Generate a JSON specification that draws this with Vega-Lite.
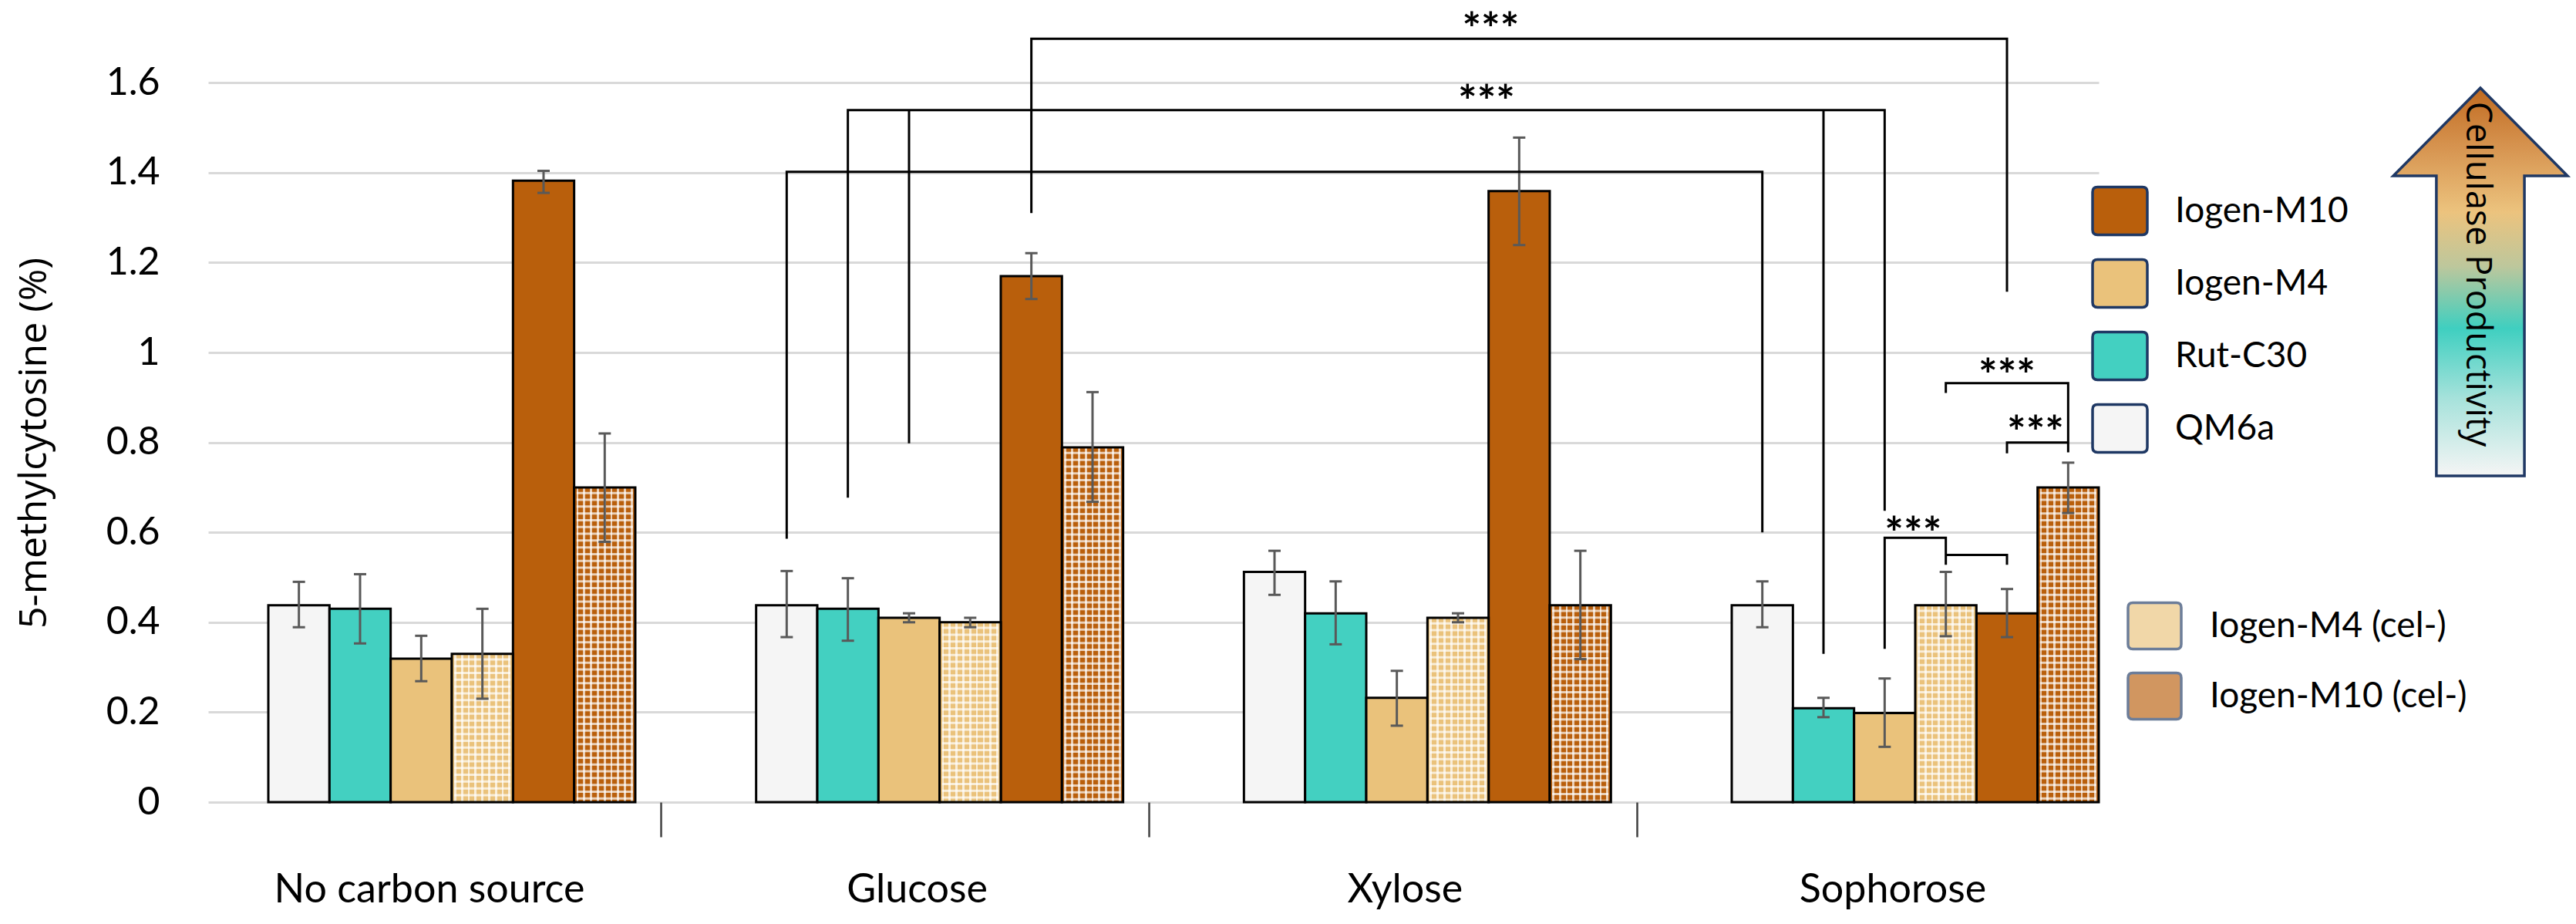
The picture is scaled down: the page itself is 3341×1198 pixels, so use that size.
{
  "$schema": "https://vega.github.io/schema/vega-lite/v6.json",
  "width": 2452,
  "height": 1026,
  "autosize": {"type": "none"},
  "padding": {"left": 270, "top": 14, "right": 619, "bottom": 158},
  "background": "white",
  "config": {"view": {"stroke": null}},
  "datasets": {
    "bars": [
      {"source": "No carbon source", "strain": "QM6a", "value": 0.438, "low": 0.389, "high": 0.490},
      {"source": "No carbon source", "strain": "Rut-C30", "value": 0.430, "low": 0.353, "high": 0.507},
      {"source": "No carbon source", "strain": "Iogen-M4", "value": 0.319, "low": 0.269, "high": 0.370},
      {"source": "No carbon source", "strain": "Iogen-M4 (cel-)", "value": 0.330, "low": 0.230, "high": 0.430},
      {"source": "No carbon source", "strain": "Iogen-M10", "value": 1.382, "low": 1.355, "high": 1.404},
      {"source": "No carbon source", "strain": "Iogen-M10 (cel-)", "value": 0.700, "low": 0.579, "high": 0.820},
      {"source": "Glucose", "strain": "QM6a", "value": 0.438, "low": 0.367, "high": 0.514},
      {"source": "Glucose", "strain": "Rut-C30", "value": 0.430, "low": 0.359, "high": 0.498},
      {"source": "Glucose", "strain": "Iogen-M4", "value": 0.410, "low": 0.400, "high": 0.420},
      {"source": "Glucose", "strain": "Iogen-M4 (cel-)", "value": 0.400, "low": 0.389, "high": 0.410},
      {"source": "Glucose", "strain": "Iogen-M10", "value": 1.170, "low": 1.119, "high": 1.221},
      {"source": "Glucose", "strain": "Iogen-M10 (cel-)", "value": 0.789, "low": 0.668, "high": 0.912},
      {"source": "Xylose", "strain": "QM6a", "value": 0.512, "low": 0.461, "high": 0.559},
      {"source": "Xylose", "strain": "Rut-C30", "value": 0.420, "low": 0.351, "high": 0.491},
      {"source": "Xylose", "strain": "Iogen-M4", "value": 0.232, "low": 0.170, "high": 0.292},
      {"source": "Xylose", "strain": "Iogen-M4 (cel-)", "value": 0.410, "low": 0.400, "high": 0.420},
      {"source": "Xylose", "strain": "Iogen-M10", "value": 1.359, "low": 1.239, "high": 1.478},
      {"source": "Xylose", "strain": "Iogen-M10 (cel-)", "value": 0.438, "low": 0.318, "high": 0.559},
      {"source": "Sophorose", "strain": "QM6a", "value": 0.438, "low": 0.389, "high": 0.491},
      {"source": "Sophorose", "strain": "Rut-C30", "value": 0.209, "low": 0.189, "high": 0.232},
      {"source": "Sophorose", "strain": "Iogen-M4", "value": 0.198, "low": 0.123, "high": 0.275},
      {"source": "Sophorose", "strain": "Iogen-M4 (cel-)", "value": 0.438, "low": 0.369, "high": 0.512},
      {"source": "Sophorose", "strain": "Iogen-M10", "value": 0.420, "low": 0.367, "high": 0.474},
      {"source": "Sophorose", "strain": "Iogen-M10 (cel-)", "value": 0.700, "low": 0.643, "high": 0.755}
    ],
    "brackets": [
      {"b": "A", "i": 1, "source": "Glucose", "strain": "Iogen-M10", "y": 1.31},
      {"b": "A", "i": 2, "source": "Glucose", "strain": "Iogen-M10", "y": 1.698},
      {"b": "A", "i": 3, "source": "Sophorose", "strain": "Iogen-M10", "y": 1.698},
      {"b": "A", "i": 4, "source": "Sophorose", "strain": "Iogen-M10", "y": 1.135},
      {"b": "B1", "i": 1, "source": "Glucose", "strain": "Rut-C30", "y": 0.677},
      {"b": "B1", "i": 2, "source": "Glucose", "strain": "Rut-C30", "y": 1.539},
      {"b": "B1", "i": 3, "source": "Sophorose", "strain": "Iogen-M4", "y": 1.539},
      {"b": "B1", "i": 4, "source": "Sophorose", "strain": "Iogen-M4", "y": 0.648},
      {"b": "B2", "i": 1, "source": "Glucose", "strain": "Iogen-M4", "y": 0.798},
      {"b": "B2", "i": 2, "source": "Glucose", "strain": "Iogen-M4", "y": 1.539},
      {"b": "B3", "i": 1, "source": "Sophorose", "strain": "Rut-C30", "y": 0.33},
      {"b": "B3", "i": 2, "source": "Sophorose", "strain": "Rut-C30", "y": 1.539},
      {"b": "C", "i": 1, "source": "Glucose", "strain": "QM6a", "y": 0.586},
      {"b": "C", "i": 2, "source": "Glucose", "strain": "QM6a", "y": 1.402},
      {"b": "C", "i": 3, "source": "Sophorose", "strain": "QM6a", "y": 1.402},
      {"b": "C", "i": 4, "source": "Sophorose", "strain": "QM6a", "y": 0.6},
      {"b": "D", "i": 1, "source": "Sophorose", "strain": "Iogen-M4 (cel-)", "y": 0.91},
      {"b": "D", "i": 2, "source": "Sophorose", "strain": "Iogen-M4 (cel-)", "y": 0.932},
      {"b": "D", "i": 3, "source": "Sophorose", "strain": "Iogen-M10 (cel-)", "y": 0.932},
      {"b": "D", "i": 4, "source": "Sophorose", "strain": "Iogen-M10 (cel-)", "y": 0.778},
      {"b": "E", "i": 1, "source": "Sophorose", "strain": "Iogen-M10", "y": 0.776},
      {"b": "E", "i": 2, "source": "Sophorose", "strain": "Iogen-M10", "y": 0.8},
      {"b": "E", "i": 3, "source": "Sophorose", "strain": "Iogen-M10 (cel-)", "y": 0.8},
      {"b": "F", "i": 1, "source": "Sophorose", "strain": "Iogen-M4", "y": 0.341},
      {"b": "F", "i": 2, "source": "Sophorose", "strain": "Iogen-M4", "y": 0.588},
      {"b": "F", "i": 3, "source": "Sophorose", "strain": "Iogen-M4 (cel-)", "y": 0.588},
      {"b": "F", "i": 4, "source": "Sophorose", "strain": "Iogen-M4 (cel-)", "y": 0.528},
      {"b": "G", "i": 1, "source": "Sophorose", "strain": "Iogen-M4 (cel-)", "y": 0.55},
      {"b": "G", "i": 2, "source": "Sophorose", "strain": "Iogen-M10", "y": 0.55},
      {"b": "G", "i": 3, "source": "Sophorose", "strain": "Iogen-M10", "y": 0.528}
    ],
    "stars": [
      {"b": "A", "source": "Xylose", "strain": "Iogen-M10", "y": 1.737, "text": "***"},
      {"b": "B", "source": "Xylose", "strain": "Iogen-M4 (cel-)", "y": 1.577, "text": "***"},
      {"b": "D", "source": "Sophorose", "strain": "Iogen-M10", "y": 0.968, "text": "***"},
      {"b": "E", "source": "Sophorose", "strain": "Iogen-M10", "y": 0.84, "text": "***"},
      {"b": "F", "source": "Sophorose", "strain": "Iogen-M4", "y": 0.615, "text": "***"}
    ],
    "arrow": [{"label": "Cellulase Productivity"}]
  },
  "layer": [
    {
      "layer": [
        {
          "data": {"name": "bars"},
          "transform": [{"filter": {"not": {"field": "strain", "oneOf": ["Iogen-M4 (cel-)", "Iogen-M10 (cel-)"]}}}],
          "mark": {"type": "bar", "stroke": "black", "strokeWidth": 3},
          "encoding": {
            "x": {"field": "source", "type": "nominal",
              "scale": {"domain": ["No carbon source", "Glucose", "Xylose", "Sophorose"], "paddingInner": 0.1244, "paddingOuter": 0},
              "axis": {"title": null, "domain": false, "grid": false, "ticks": true, "tickSize": 45, "tickWidth": 2.5,
                "tickColor": {"condition": {"test": "datum.value === 'No carbon source'", "value": "transparent"}, "value": "#404040"},
                "bandPosition": -0.081, "labelFont": "Lato", "labelFontSize": 52, "labelColor": "#000000", "labelLimit": 1000,
                "labelPadding": 43, "labelOffset": 10, "labelAngle": 0, "labelBaseline": "top"}},
            "xOffset": {"field": "strain", "type": "nominal",
              "scale": {"domain": ["QM6a", "Rut-C30", "Iogen-M4", "Iogen-M4 (cel-)", "Iogen-M10", "Iogen-M10 (cel-)"], "paddingInner": 0, "paddingOuter": 0.4916, "align": 1}},
            "y": {"field": "value", "type": "quantitative",
              "scale": {"domain": [0, 1.76], "nice": false, "zero": true},
              "axis": {"values": [0, 0.2, 0.4, 0.6, 0.8, 1, 1.2, 1.4, 1.6], "format": "~g", "domain": false, "ticks": false,
                "grid": true, "gridColor": "#d9d9d9", "gridWidth": 3,
                "labelFont": "Lato", "labelFontSize": 50, "labelColor": "#000000", "labelPadding": 63,
                "title": "5-methylcytosine (%)", "titleFont": "Open Sans", "titleFontSize": 50, "titleFontWeight": "normal", "titleLimit": 2000,
                "titleColor": "#000000", "titleX": -226, "titleY": 560, "titleAngle": -90, "titleAlign": "center", "titleBaseline": "middle"}},
            "fill": {"field": "strain", "type": "nominal",
              "scale": {"domain": ["Iogen-M10", "Iogen-M4", "Rut-C30", "QM6a"], "range": ["#b95f0c", "#eac27b", "#43d0c1", "#f5f5f5"]},
              "legend": {"orient": "none", "legendX": 2442, "legendY": 222, "title": null, "padding": 0,
                "symbolType": "M-0.82,-0.87L0.82,-0.87Q1,-0.87 1,-0.69L1,0.69Q1,0.87 0.82,0.87L-0.82,0.87Q-1,0.87 -1,0.69L-1,-0.69Q-1,-0.87 -0.82,-0.87Z",
                "symbolSize": 5041, "symbolStrokeColor": "#1f3864", "symbolStrokeWidth": 3.5,
                "rowPadding": 17, "labelOffset": 34, "labelFont": "Lato", "labelFontSize": 46, "labelColor": "#000000", "labelLimit": 600}}
          }
        },
        {
          "data": {"name": "bars"},
          "transform": [{"filter": {"field": "strain", "oneOf": ["Iogen-M4 (cel-)", "Iogen-M10 (cel-)"]}}],
          "mark": {"type": "bar", "strokeWidth": 0},
          "encoding": {
            "x": {"field": "source", "type": "nominal", "scale": {"domain": ["No carbon source", "Glucose", "Xylose", "Sophorose"], "paddingInner": 0.1244, "paddingOuter": 0}},
            "xOffset": {"field": "strain", "type": "nominal", "scale": {"domain": ["QM6a", "Rut-C30", "Iogen-M4", "Iogen-M4 (cel-)", "Iogen-M10", "Iogen-M10 (cel-)"], "paddingInner": 0, "paddingOuter": 0.4916, "align": 1}},
            "y": {"field": "value", "type": "quantitative", "scale": {"domain": [0, 1.76], "nice": false, "zero": true}},
            "fill": {"field": "strain", "type": "nominal",
              "scale": {"domain": ["Iogen-M4 (cel-)", "Iogen-M10 (cel-)"], "range": ["#eac27b", "#b95f0c"]},
              "legend": {"orient": "none", "legendX": 2488, "legendY": 761, "title": null, "padding": 0,
                "symbolType": "M-0.82,-0.87L0.82,-0.87Q1,-0.87 1,-0.69L1,0.69Q1,0.87 0.82,0.87L-0.82,0.87Q-1,0.87 -1,0.69L-1,-0.69Q-1,-0.87 -0.82,-0.87Z",
                "symbolSize": 4761, "symbolStrokeColor": "#1f3864", "symbolStrokeWidth": 3.5, "symbolOpacity": 0.65,
                "rowPadding": 16, "labelOffset": 35, "labelFont": "Lato", "labelFontSize": 46, "labelColor": "#000000", "labelLimit": 600}}
          }
        },
        {
          "data": {"name": "bars"},
          "transform": [{"filter": {"field": "strain", "oneOf": ["Iogen-M4 (cel-)", "Iogen-M10 (cel-)"]}}],
          "mark": {"type": "bar", "stroke": "black", "strokeWidth": 3,
            "fill": {"gradient": "linear", "x1": 0, "y1": 0, "x2": 1, "y2": 0, "stops": [
              {"offset": 0, "color": "rgba(255,255,255,0)"}, {"offset": 0.038, "color": "rgba(255,255,255,0)"},
              {"offset": 0.038, "color": "rgba(255,255,255,0.7)"}, {"offset": 0.073, "color": "rgba(255,255,255,0.7)"},
              {"offset": 0.073, "color": "rgba(255,255,255,0)"}, {"offset": 0.149, "color": "rgba(255,255,255,0)"},
              {"offset": 0.149, "color": "rgba(255,255,255,0.7)"}, {"offset": 0.184, "color": "rgba(255,255,255,0.7)"},
              {"offset": 0.184, "color": "rgba(255,255,255,0)"}, {"offset": 0.26, "color": "rgba(255,255,255,0)"},
              {"offset": 0.26, "color": "rgba(255,255,255,0.7)"}, {"offset": 0.295, "color": "rgba(255,255,255,0.7)"},
              {"offset": 0.295, "color": "rgba(255,255,255,0)"}, {"offset": 0.371, "color": "rgba(255,255,255,0)"},
              {"offset": 0.371, "color": "rgba(255,255,255,0.7)"}, {"offset": 0.406, "color": "rgba(255,255,255,0.7)"},
              {"offset": 0.406, "color": "rgba(255,255,255,0)"}, {"offset": 0.482, "color": "rgba(255,255,255,0)"},
              {"offset": 0.482, "color": "rgba(255,255,255,0.7)"}, {"offset": 0.517, "color": "rgba(255,255,255,0.7)"},
              {"offset": 0.517, "color": "rgba(255,255,255,0)"}, {"offset": 0.593, "color": "rgba(255,255,255,0)"},
              {"offset": 0.593, "color": "rgba(255,255,255,0.7)"}, {"offset": 0.628, "color": "rgba(255,255,255,0.7)"},
              {"offset": 0.628, "color": "rgba(255,255,255,0)"}, {"offset": 0.704, "color": "rgba(255,255,255,0)"},
              {"offset": 0.704, "color": "rgba(255,255,255,0.7)"}, {"offset": 0.739, "color": "rgba(255,255,255,0.7)"},
              {"offset": 0.739, "color": "rgba(255,255,255,0)"}, {"offset": 0.815, "color": "rgba(255,255,255,0)"},
              {"offset": 0.815, "color": "rgba(255,255,255,0.7)"}, {"offset": 0.85, "color": "rgba(255,255,255,0.7)"},
              {"offset": 0.85, "color": "rgba(255,255,255,0)"}, {"offset": 0.926, "color": "rgba(255,255,255,0)"},
              {"offset": 0.926, "color": "rgba(255,255,255,0.7)"}, {"offset": 0.961, "color": "rgba(255,255,255,0.7)"},
              {"offset": 0.961, "color": "rgba(255,255,255,0)"}, {"offset": 1, "color": "rgba(255,255,255,0)"}
            ]}},
          "encoding": {
            "x": {"field": "source", "type": "nominal", "scale": {"domain": ["No carbon source", "Glucose", "Xylose", "Sophorose"], "paddingInner": 0.1244, "paddingOuter": 0}},
            "xOffset": {"field": "strain", "type": "nominal", "scale": {"domain": ["QM6a", "Rut-C30", "Iogen-M4", "Iogen-M4 (cel-)", "Iogen-M10", "Iogen-M10 (cel-)"], "paddingInner": 0, "paddingOuter": 0.4916, "align": 1}},
            "y": {"field": "value", "type": "quantitative", "scale": {"domain": [0, 1.76], "nice": false, "zero": true}}
          }
        },
        {
          "data": {"name": "bars"},
          "transform": [{"filter": {"field": "strain", "oneOf": ["Iogen-M4 (cel-)", "Iogen-M10 (cel-)"]}}],
          "mark": {"type": "rule", "stroke": "white", "strokeOpacity": 0.7, "strokeWidth": 73, "strokeDash": [3, 5.8], "strokeDashOffset": 3},
          "encoding": {
            "x": {"field": "source", "type": "nominal", "scale": {"domain": ["No carbon source", "Glucose", "Xylose", "Sophorose"], "paddingInner": 0.1244, "paddingOuter": 0}},
            "xOffset": {"field": "strain", "type": "nominal", "scale": {"domain": ["QM6a", "Rut-C30", "Iogen-M4", "Iogen-M4 (cel-)", "Iogen-M10", "Iogen-M10 (cel-)"], "paddingInner": 0, "paddingOuter": 0.4916, "align": 1}},
            "y": {"field": "value", "type": "quantitative", "scale": {"domain": [0, 1.76], "nice": false, "zero": true}},
            "y2": {"datum": 0.004}
          }
        },
        {
          "data": {"name": "bars"},
          "mark": {"type": "rule", "stroke": "#595959", "strokeWidth": 3},
          "encoding": {
            "x": {"field": "source", "type": "nominal", "scale": {"domain": ["No carbon source", "Glucose", "Xylose", "Sophorose"], "paddingInner": 0.1244, "paddingOuter": 0}},
            "xOffset": {"field": "strain", "type": "nominal", "scale": {"domain": ["QM6a", "Rut-C30", "Iogen-M4", "Iogen-M4 (cel-)", "Iogen-M10", "Iogen-M10 (cel-)"], "paddingInner": 0, "paddingOuter": 0.4916, "align": 1}},
            "y": {"field": "low", "type": "quantitative", "scale": {"domain": [0, 1.76], "nice": false, "zero": true}},
            "y2": {"field": "high"}
          }
        },
        {
          "data": {"name": "bars"},
          "mark": {"type": "tick", "color": "#595959", "size": 16, "thickness": 3, "opacity": 1},
          "encoding": {
            "x": {"field": "source", "type": "nominal", "scale": {"domain": ["No carbon source", "Glucose", "Xylose", "Sophorose"], "paddingInner": 0.1244, "paddingOuter": 0}},
            "xOffset": {"field": "strain", "type": "nominal", "scale": {"domain": ["QM6a", "Rut-C30", "Iogen-M4", "Iogen-M4 (cel-)", "Iogen-M10", "Iogen-M10 (cel-)"], "paddingInner": 0, "paddingOuter": 0.4916, "align": 1}},
            "y": {"field": "low", "type": "quantitative", "scale": {"domain": [0, 1.76], "nice": false, "zero": true}}
          }
        },
        {
          "data": {"name": "bars"},
          "mark": {"type": "tick", "color": "#595959", "size": 16, "thickness": 3, "opacity": 1},
          "encoding": {
            "x": {"field": "source", "type": "nominal", "scale": {"domain": ["No carbon source", "Glucose", "Xylose", "Sophorose"], "paddingInner": 0.1244, "paddingOuter": 0}},
            "xOffset": {"field": "strain", "type": "nominal", "scale": {"domain": ["QM6a", "Rut-C30", "Iogen-M4", "Iogen-M4 (cel-)", "Iogen-M10", "Iogen-M10 (cel-)"], "paddingInner": 0, "paddingOuter": 0.4916, "align": 1}},
            "y": {"field": "high", "type": "quantitative", "scale": {"domain": [0, 1.76], "nice": false, "zero": true}}
          }
        },
        {
          "data": {"name": "brackets"},
          "mark": {"type": "line", "stroke": "black", "strokeWidth": 3, "strokeJoin": "miter"},
          "encoding": {
            "x": {"field": "source", "type": "nominal", "scale": {"domain": ["No carbon source", "Glucose", "Xylose", "Sophorose"], "paddingInner": 0.1244, "paddingOuter": 0}},
            "xOffset": {"field": "strain", "type": "nominal", "scale": {"domain": ["QM6a", "Rut-C30", "Iogen-M4", "Iogen-M4 (cel-)", "Iogen-M10", "Iogen-M10 (cel-)"], "paddingInner": 0, "paddingOuter": 0.4916, "align": 1}},
            "y": {"field": "y", "type": "quantitative", "scale": {"domain": [0, 1.76], "nice": false, "zero": true}},
            "detail": {"field": "b", "type": "nominal"},
            "order": {"field": "i", "type": "quantitative"}
          }
        },
        {
          "data": {"name": "stars"},
          "transform": [{"filter": {"field": "b", "oneOf": ["B", "E", "F"]}}],
          "mark": {"type": "text", "font": "Lato", "fontSize": 58, "fontWeight": "bold", "color": "black", "align": "left", "baseline": "middle", "dy": 14},
          "encoding": {
            "x": {"field": "source", "type": "nominal", "scale": {"domain": ["No carbon source", "Glucose", "Xylose", "Sophorose"], "paddingInner": 0.1244, "paddingOuter": 0}},
            "xOffset": {"field": "strain", "type": "nominal", "scale": {"domain": ["QM6a", "Rut-C30", "Iogen-M4", "Iogen-M4 (cel-)", "Iogen-M10", "Iogen-M10 (cel-)"], "paddingInner": 0, "paddingOuter": 0.4916, "align": 1}},
            "y": {"field": "y", "type": "quantitative", "scale": {"domain": [0, 1.76], "nice": false, "zero": true}},
            "text": {"field": "text"}
          }
        },
        {
          "data": {"name": "stars"},
          "transform": [{"filter": {"field": "b", "oneOf": ["A"]}}],
          "mark": {"type": "text", "font": "Lato", "fontSize": 58, "fontWeight": "bold", "color": "black", "align": "right", "baseline": "middle", "dy": 14},
          "encoding": {
            "x": {"field": "source", "type": "nominal", "scale": {"domain": ["No carbon source", "Glucose", "Xylose", "Sophorose"], "paddingInner": 0.1244, "paddingOuter": 0}},
            "xOffset": {"field": "strain", "type": "nominal", "scale": {"domain": ["QM6a", "Rut-C30", "Iogen-M4", "Iogen-M4 (cel-)", "Iogen-M10", "Iogen-M10 (cel-)"], "paddingInner": 0, "paddingOuter": 0.4916, "align": 1}},
            "y": {"field": "y", "type": "quantitative", "scale": {"domain": [0, 1.76], "nice": false, "zero": true}},
            "text": {"field": "text"}
          }
        },
        {
          "data": {"name": "stars"},
          "transform": [{"filter": {"field": "b", "oneOf": ["D"]}}],
          "mark": {"type": "text", "font": "Lato", "fontSize": 58, "fontWeight": "bold", "color": "black", "align": "center", "baseline": "middle", "dy": 14},
          "encoding": {
            "x": {"field": "source", "type": "nominal", "scale": {"domain": ["No carbon source", "Glucose", "Xylose", "Sophorose"], "paddingInner": 0.1244, "paddingOuter": 0}},
            "xOffset": {"field": "strain", "type": "nominal", "scale": {"domain": ["QM6a", "Rut-C30", "Iogen-M4", "Iogen-M4 (cel-)", "Iogen-M10", "Iogen-M10 (cel-)"], "paddingInner": 0, "paddingOuter": 0.4916, "align": 1}},
            "y": {"field": "y", "type": "quantitative", "scale": {"domain": [0, 1.76], "nice": false, "zero": true}},
            "text": {"field": "text"}
          }
        }
      ],
      "resolve": {"scale": {"fill": "independent"}}
    },
    {
      "data": {"name": "arrow"},
      "mark": {"type": "point", "opacity": 0, "filled": true, "strokeWidth": 3.5,
        "fill": {"gradient": "linear", "x1": 0, "y1": 0, "x2": 0, "y2": 1, "stops": [
          {"offset": 0, "color": "#c06a20"}, {"offset": 0.15, "color": "#d6934f"}, {"offset": 0.32, "color": "#ecc37e"},
          {"offset": 0.46, "color": "#bdc79c"}, {"offset": 0.62, "color": "#3fcfc0"}, {"offset": 0.8, "color": "#a6e2db"},
          {"offset": 1, "color": "#f5f5f5"}]}},
      "encoding": {
        "y": {"datum": 0.5, "type": "quantitative", "scale": {"domain": [0, 1]},
          "axis": {"orient": "right", "title": "Cellulase Productivity", "labels": false, "ticks": false, "domain": false, "grid": false, "zindex": 10,
            "titleFont": "Open Sans", "titleFontSize": 45, "titleFontWeight": "normal", "titleColor": "#000000", "titleLimit": 2000,
            "titleAngle": 90, "titleX": 490, "titleY": 341, "titleAlign": "center", "titleBaseline": "middle"}},
        "stroke": {"field": "label", "type": "nominal",
          "scale": {"range": ["#1f3864"]},
          "legend": {"orient": "none", "legendX": 2693.5, "legendY": 98, "title": null, "padding": 0, "zindex": 0,
            "symbolType": "M0,-1L0.449,-0.547L0.227,-0.547L0.227,1L-0.227,1L-0.227,-0.547L-0.449,-0.547Z",
            "symbolSize": 253009, "symbolOpacity": 1, "symbolStrokeWidth": 3.5,
            "labelExpr": "''", "labelOffset": 0}}
      }
    }
  ],
  "resolve": {"scale": {"y": "independent"}}
}
